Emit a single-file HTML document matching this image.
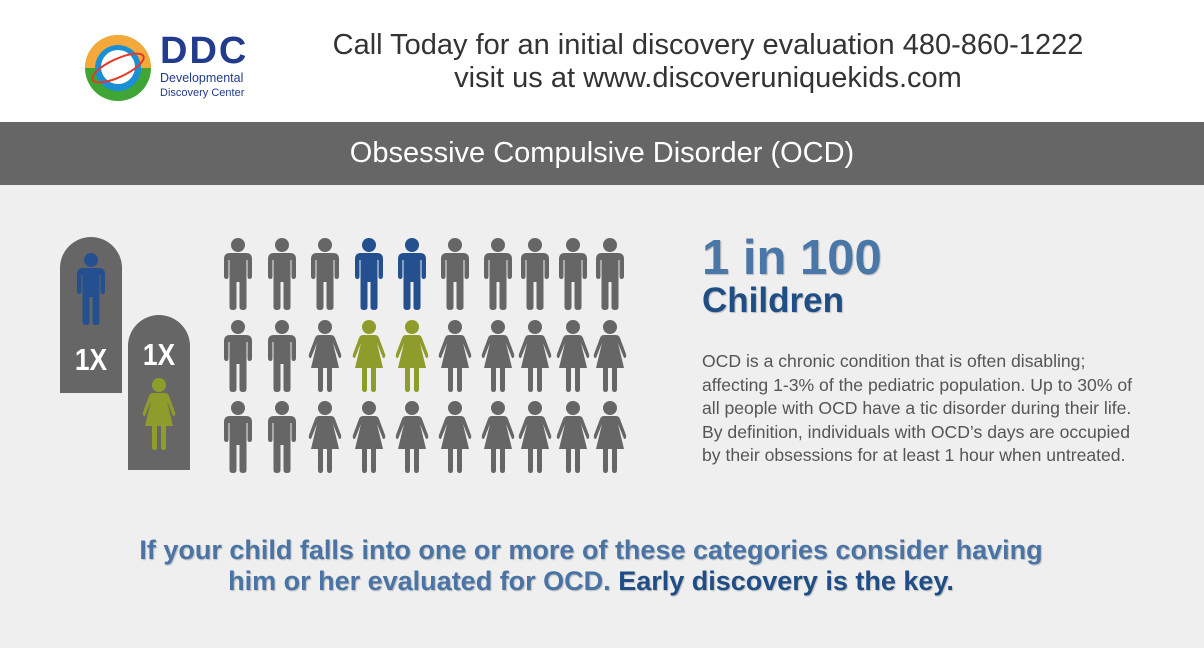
<!DOCTYPE html>
<html><head><meta charset="utf-8"><style>
body{margin:0;width:1204px;height:648px;background:#efefef;font-family:"Liberation Sans",sans-serif;position:relative;overflow:hidden}
.hdr{position:absolute;left:0;top:0;width:1204px;height:122px;background:#fff}
.bar{position:absolute;left:0;top:122px;width:1204px;height:63px;background:#666;color:#fff;font-size:29px;text-align:center;line-height:63px}
.call{position:absolute;left:300px;top:29px;width:816px;text-align:center;font-size:29px;color:#333;line-height:33px}
.abs{position:absolute}
.p{position:absolute;left:702px;top:350px;font-size:17.6px;line-height:23.5px;color:#555;width:500px;white-space:nowrap}
.bt{position:absolute;left:0;width:1182px;text-align:center;font-weight:bold;font-size:27px;color:#4a74a5;text-shadow:1px 1px 1px #bbb}
</style></head><body>
<div class="hdr"></div>
<svg class="abs" style="left:84px;top:34px" width="68" height="68" viewBox="0 0 68 68">
<circle cx="34" cy="34" r="33" fill="#3fa535"/>
<path d="M1 34 A33 33 0 0 1 67 34 Z" fill="#f4a93a"/>
<circle cx="34" cy="34" r="23" fill="#1a8fd6"/>
<circle cx="34" cy="33" r="17" fill="#fff"/>
<ellipse cx="34" cy="34" rx="28" ry="9" fill="none" stroke="#e23a2a" stroke-width="2" transform="rotate(-25 34 34)"/>
</svg>
<div class="abs" style="left:160px;top:30px;font-size:38px;font-weight:bold;color:#233b8c;letter-spacing:2px">DDC</div>
<div class="abs" style="left:160px;top:71px;font-size:12.5px;color:#233b8c">Developmental</div>
<div class="abs" style="left:160px;top:87px;font-size:11px;color:#233b8c">Discovery Center</div>
<div class="call">Call Today for an initial discovery evaluation 480-860-1222<br>visit us at www.discoveruniquekids.com</div>
<div class="bar">Obsessive Compulsive Disorder (OCD)</div>

<svg class="abs" style="left:0;top:0" width="700" height="648">
<defs>
<g id="m"><circle cx="15" cy="7" r="7"/><path d="M7 15 H23 Q29 15 29 21 V38 Q29 41 26.5 41 Q24.5 41 24.5 38 V22 H23.5 V69 Q23.5 72 20 72 Q16.5 72 16.5 69 V44 H13.5 V69 Q13.5 72 10 72 Q6.5 72 6.5 69 V22 H5.5 V38 Q5.5 41 3.5 41 Q1 41 1 38 V21 Q1 15 7 15 Z"/></g>
<g id="w"><circle cx="15" cy="7" r="7"/><path d="M9 15 H21 Q24 15 25 18 L31 34 Q32 38 29 38 L23 23 L29 48 H22 V69 Q22 72 19.5 72 Q17 72 17 69 V48 H13 V69 Q13 72 10.5 72 Q8 72 8 69 V48 H1 L7 23 L1 38 Q-2 38 -1 34 L5 18 Q6 15 9 15 Z"/></g>
</defs>
<path d="M60 268 A31 31 0 0 1 122 268 V393 H60 Z" fill="#666"/>
<path d="M128 346 A31 31 0 0 1 190 346 V470 H128 Z" fill="#666"/>
<use href="#m" x="76" y="253" fill="#25508f"/>
<use href="#w" x="144" y="378" fill="#8d9c2a"/>
<text x="91" y="370" font-size="31" font-weight="bold" fill="#fff" text-anchor="middle" transform="translate(91 0) scale(0.85 1) translate(-91 0)">1X</text>
<text x="159" y="365" font-size="31" font-weight="bold" fill="#fff" text-anchor="middle" transform="translate(159 0) scale(0.85 1) translate(-159 0)">1X</text>
<g fill="#666">
<use href="#m" x="223" y="238"/><use href="#m" x="267" y="238"/><use href="#m" x="310" y="238"/>
<use href="#m" x="354" y="238" fill="#25508f"/><use href="#m" x="397" y="238" fill="#25508f"/>
<use href="#m" x="440" y="238"/><use href="#m" x="483" y="238"/><use href="#m" x="520" y="238"/><use href="#m" x="558" y="238"/><use href="#m" x="595" y="238"/>
<use href="#m" x="223" y="320"/><use href="#m" x="267" y="320"/><use href="#w" x="310" y="320"/>
<use href="#w" x="354" y="320" fill="#8d9c2a"/><use href="#w" x="397" y="320" fill="#8d9c2a"/>
<use href="#w" x="440" y="320"/><use href="#w" x="483" y="320"/><use href="#w" x="520" y="320"/><use href="#w" x="558" y="320"/><use href="#w" x="595" y="320"/>
<use href="#m" x="223" y="401"/><use href="#m" x="267" y="401"/><use href="#w" x="310" y="401"/>
<use href="#w" x="354" y="401"/><use href="#w" x="397" y="401"/>
<use href="#w" x="440" y="401"/><use href="#w" x="483" y="401"/><use href="#w" x="520" y="401"/><use href="#w" x="558" y="401"/><use href="#w" x="595" y="401"/>
</g>
</svg>
<div class="abs" style="left:702px;top:230px;font-size:49px;font-weight:bold;color:#4a77a8;text-shadow:1px 1px 1px #bbb">1 in 100</div>
<div class="abs" style="left:702px;top:281px;font-size:35px;font-weight:bold;color:#1f4e86;text-shadow:1px 1px 1px #bbb">Children</div>
<div class="p">OCD is a chronic condition that is often disabling;<br>affecting 1-3% of the pediatric population. Up to 30% of<br>all people with OCD have a tic disorder during their life.<br>By definition, individuals with OCD’s days are occupied<br>by their obsessions for at least 1 hour when untreated.</div>
<div class="bt" style="top:535px">If your child falls into one or more of these categories consider having</div>
<div class="bt" style="top:566px">him or her evaluated for OCD. <span style="color:#1f4e86">Early discovery is the key.</span></div>
</body></html>
